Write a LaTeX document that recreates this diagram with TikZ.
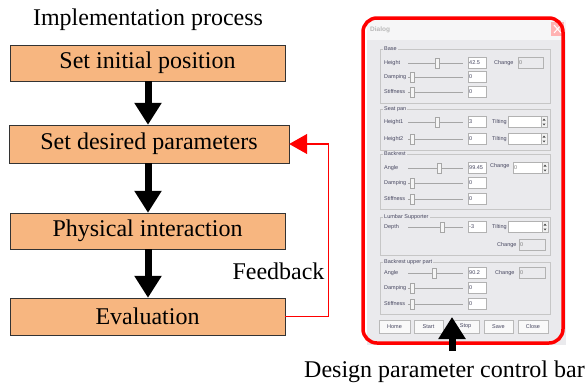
\documentclass[tikz,border=0pt]{standalone}
\usepackage{fontspec}
\setmainfont{Liberation Serif}
\setsansfont{Liberation Sans}
\usetikzlibrary{arrows.meta}
\definecolor{boxfill}{RGB}{247,182,128}
\definecolor{dlgbg}{RGB}{234,234,237}
\definecolor{dlgtxt}{RGB}{70,70,95}

% slider row: y, label, thumb x, value
\newcommand\dlgslider[4]{%
  \node[dlgtext,anchor=west] at (384,#1) {#2};
  \draw[gray!70] (408,#1) -- (463,#1);
  \draw[gray!70,fill=gray!8] (#3-2,#1-5) rectangle (#3+2,#1+5);
  \draw[dlgedit] (468,#1-5.5) rectangle (486,#1+5.5);
  \node[dlgtext,anchor=west] at (469,#1) {#4};
}
% spin box: x1, x2, y, text
\newcommand\dlgspin[4]{%
  \draw[dlgedit] (#1,#3-5.5) rectangle (#2,#3+5.5);
  \draw[gray!60,fill=gray!10] (#2-6,#3-5.5) rectangle (#2,#3+5.5);
  \fill[black!70] (#2-4.5,#3-1.5) -- (#2-1.5,#3-1.5) -- (#2-3,#3-3.5) -- cycle;
  \fill[black!70] (#2-4.5,#3+1.5) -- (#2-1.5,#3+1.5) -- (#2-3,#3+3.5) -- cycle;
  \node[dlgtext,anchor=west,text=gray] at (#1+1,#3) {#4};
}
% read-only box: x1, x2, y
\newcommand\dlgshow[3]{%
  \draw[gray!60,fill=dlgbg] (#1,#3-5.5) rectangle (#2,#3+5.5);
  \node[dlgtext,anchor=west,text=gray] at (#1+1,#3) {0};
}
% button: x1, x2, label
\newcommand\dlgbutton[3]{%
  \draw[gray!55,fill=gray!5] (#1,320) rectangle (#2,333);
  \node[dlgtext] at ({(#1+#2)/2},326.5) {#3};
}

\begin{document}
\begin{tikzpicture}[x=1pt,y=-1pt,
  stepbox/.style={draw=black!80,fill=boxfill,minimum height=36pt,inner sep=0pt,
    font=\fontsize{24}{28}\selectfont},
  fatarrow/.style={line width=7pt,-{Triangle[width=26pt,length=22pt]}},
  dlgtext/.style={inner sep=0pt,font=\sffamily\fontsize{5.5}{6}\selectfont,text=dlgtxt},
  dlgedit/.style={draw=gray!60,fill=white},
  dlggroup/.style={draw=gray!45}]
\useasboundingbox (0,0) rectangle (586,384);

% process
\node[font=\fontsize{24}{28}\selectfont] (title) at (148,20) {Implementation process};
\node[stepbox,minimum width=275pt] (init) at (147.5,63) {Set initial position};
\node[stepbox,minimum width=280pt,minimum height=38pt] (desired) at (149,144) {Set desired parameters};
\node[stepbox,minimum width=275pt] (phys) at (147.5,231) {Physical interaction};
\node[stepbox,minimum width=275pt,minimum height=37pt] (eval) at (147.5,316.5) {Evaluation};
\coordinate (ax) at (148,0);
\draw[fatarrow] (init.south -| ax) -- (desired.north -| ax);
\draw[fatarrow] (desired.south -| ax) -- (phys.north -| ax);
\draw[fatarrow] (phys.south -| ax) -- (eval.north -| ax);

% feedback
\draw[red,line width=1.3pt,-{Triangle[width=20pt,length=18pt]}]
  (eval.east) -- ++(43,0) |- (desired.east);
\node[anchor=east,font=\fontsize{24}{28}\selectfont] (fb) at (328,271) {Feedback};

% dialog
\fill[dlgbg] (367,20) rectangle (566,345);
\fill[white!55!dlgbg] (367,20) rectangle (566,40);
\node[dlgtext,anchor=west,text=gray!55,font=\sffamily\bfseries\fontsize{6.5}{7}\selectfont] at (370,30) {Dialog};
\fill[red!30] (551,22) rectangle (564,36);
\draw[white,line width=1pt] (554,25) -- (561,33) (554,33) -- (561,25);

\draw[dlggroup] (380,49) rectangle (550,103);
\node[dlgtext,fill=dlgbg,inner xsep=1pt,anchor=west] at (383,49) {Base};
\dlgslider{63}{Height}{437}{42.5}
\node[dlgtext,anchor=west] at (494,63) {Change};
\dlgshow{518}{543}{63}
\dlgslider{77}{Damping}{412}{0}
\dlgslider{92}{Stiffness}{412}{0}

\draw[dlggroup] (380,109) rectangle (550,150);
\node[dlgtext,fill=dlgbg,inner xsep=1pt,anchor=west] at (383,109) {Seat pan};
\dlgslider{122}{Height1}{437}{3}
\node[dlgtext,anchor=west] at (492,122) {Tilting};
\dlgspin{508}{547}{122}{}
\dlgslider{139}{Height2}{412}{0}
\node[dlgtext,anchor=west] at (492,139) {Tilting};
\dlgspin{508}{547}{139}{}

\draw[dlggroup] (380,154) rectangle (550,209);
\node[dlgtext,fill=dlgbg,inner xsep=1pt,anchor=west] at (383,154) {Backrest};
\dlgslider{168}{Angle}{439}{99.45}
\node[dlgtext,anchor=west] at (490,166) {Change};
\dlgspin{513}{548}{168}{0}
\dlgslider{183}{Damping}{412}{0}
\dlgslider{199}{Stiffness}{412}{0}

\draw[dlggroup] (380,217) rectangle (550,255);
\node[dlgtext,fill=dlgbg,inner xsep=1pt,anchor=west] at (383,217) {Lumbar Supporter};
\dlgslider{227}{Depth}{442}{-3}
\node[dlgtext,anchor=west] at (492,227) {Tilting};
\dlgspin{508}{548}{227}{}
\node[dlgtext,anchor=west] at (497,245) {Change};
\dlgshow{519}{545}{245}

\draw[dlggroup] (380,262) rectangle (550,314);
\node[dlgtext,fill=dlgbg,inner xsep=1pt,anchor=west] at (383,262) {Backrest upper part};
\dlgslider{273}{Angle}{434}{90.2}
\node[dlgtext,anchor=west] at (495,273) {Change};
\dlgshow{519}{545}{273}
\dlgslider{288}{Damping}{412}{0}
\dlgslider{304}{Stiffness}{412}{0}

\dlgbutton{379}{410}{Home}
\dlgbutton{414}{443}{Start}
\dlgbutton{452}{479}{Stop}
\dlgbutton{484}{513}{Save}
\dlgbutton{518}{548}{Close}

\draw[red,line width=3.5pt,rounded corners=14pt] (363,18) rectangle (563,343);

% control bar
\node[anchor=base,font=\fontsize{24}{28}\selectfont] (ctrlbar) at (444.5,377) {Design parameter control bar};
\coordinate (bartip) at (452,317);
\coordinate (barfoot) at (452,351);
\draw[fatarrow] (barfoot) -- (bartip);
\end{tikzpicture}
\end{document}
